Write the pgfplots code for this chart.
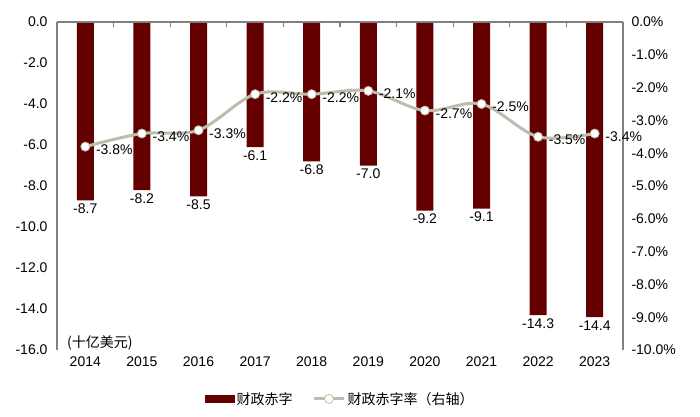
\documentclass[border=0pt]{standalone}
\usepackage{pgfplots}
\pgfplotsset{compat=1.18}
\usepackage{fontspec}
\setmainfont{Liberation Sans}
\newfontfamily\cjk{Noto Sans CJK SC}

\definecolor{barred}{HTML}{640000}
\definecolor{linegrey}{HTML}{BDBDAD}
\definecolor{axisgrey}{HTML}{808080}

\pgfplotstableread{
x year deficit rate
0 2014 -8.7 -3.8
1 2015 -8.2 -3.4
2 2016 -8.5 -3.3
3 2017 -6.1 -2.2
4 2018 -6.8 -2.2
5 2019 -7.0 -2.1
6 2020 -9.2 -2.7
7 2021 -9.1 -2.5
8 2022 -14.3 -3.5
9 2023 -14.4 -3.4
}\datatable

\pgfplotsset{
  base/.style={
    at={(57pt,66pt)}, anchor=south west,
    scale only axis, width=566pt, height=328pt,
    xmin=-0.5, xmax=9.5,
    axis line style={axisgrey, line width=1.2pt},
    tick label style={font=\fontsize{14}{16}\selectfont},
    /pgf/number format/assume math mode=true,
    clip=false,
  },
}

\begin{document}
\begin{tikzpicture}
\path[use as bounding box] (0,0) rectangle (700pt,416pt);

\begin{axis}[base,
  ymin=-16, ymax=0,
  ytick={0,-2,...,-16},
  axis y line*=left,
  axis x line*=bottom,
  x axis line style={draw=none},
  xtick=data,
  xticklabels={2014,2015,2016,2017,2018,2019,2020,2021,2022,2023},
  xtick style={draw=none},
  ytick style={draw=none},
  xticklabel style={yshift=-3pt},
  yticklabel={\pgfmathprintnumber[fixed,fixed zerofill,precision=1]{\tick}},
  yticklabel style={xshift=-6pt},
  legend style={at={(0.5,-0.149)}, anchor=center, draw=none,
    font=\cjk\fontsize{14}{16}\selectfont,
    /tikz/every even column/.append style={column sep=18pt}},
  legend columns=2,
]
\addplot[ybar, bar width=17pt, fill=barred, draw=none,
  nodes near coords={\pgfmathprintnumber[fixed,fixed zerofill,precision=1]{\pgfplotspointmeta}},
  nodes near coords style={font=\fontsize{14}{16}\selectfont, text=black},
  legend image code/.code={\fill[barred] (0pt,-4pt) rectangle (30pt,4pt);},
] table[x=x, y=deficit] {\datatable};
\addlegendentry{财政赤字}
\addlegendimage{linegrey, line width=3pt,
  legend image code/.code={
    \draw[linegrey, line width=3pt] (0pt,0pt) -- (30pt,0pt);
    \draw[linegrey, line width=0.8pt, fill=white] (15pt,0pt) circle (4.5pt);}}
\addlegendentry{财政赤字率（右轴）}
\node[anchor=west, font=\cjk\fontsize{14}{16}\selectfont, inner sep=0pt] at (axis cs:-0.5,-15.65) [xshift=10pt] {(十亿美元)};
\end{axis}

\begin{axis}[base,
  ymin=-10, ymax=0,
  ytick={0,-1,...,-10},
  axis y line*=right,
  axis x line*=top,
  xtick={0.5,1.5,...,8.5},
  xticklabels={},
  xtick style={axisgrey, line width=1.2pt},
  major tick length=5pt,
  tick align=inside,
  ytick style={draw=none},
  yticklabel={\pgfmathprintnumber[fixed,fixed zerofill,precision=1]{\tick}\%},
  yticklabel style={xshift=5pt},
]
\addplot[linegrey, line width=3pt, smooth, tension=0.55,
  mark=*, mark size=4.5pt, mark options={fill=white, draw=linegrey, line width=0.8pt},
  nodes near coords={\pgfmathprintnumber[fixed,fixed zerofill,precision=1]{\pgfplotspointmeta}\%},
  every node near coord/.append style={anchor=west, xshift=7pt, yshift=-3pt,
    font=\fontsize{14}{16}\selectfont, text=black},
] table[x=x, y=rate] {\datatable};
\end{axis}
\end{tikzpicture}
\end{document}
